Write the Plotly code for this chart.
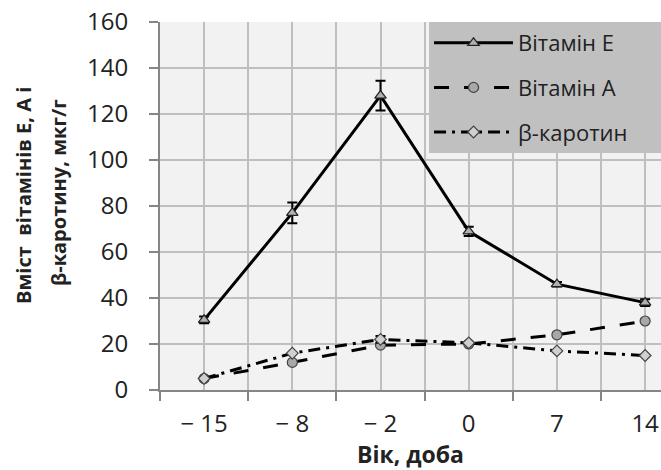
import plotly.graph_objects as go

categories = ["\u2212 15", "\u2212 8", "\u2212 2", "0", "7", "14"]
vit_e = [30.5, 77, 128, 69, 46, 38]
vit_e_err = [1.5, 4.5, 6.5, 2, 1, 1.5]
vit_a = [5, 12, 19.5, 20, 24, 30]
beta = [5, 16, 22, 20.5, 17, 15]
beta_err = [0, 0, 1.5, 0, 0, 0]
names = ["Вітамін Е", "Вітамін А", "β-каротин"]
y_title = ["Вміст  вітамінів Е, А і", "β-каротину, мкг/г"]
x_title = "Вік, доба"

xpos = list(range(len(categories)))
FONT = "Open Sans"
LEG_BG = "#c0c0c0"

fig = go.Figure()
fig.add_trace(go.Scatter(
    x=xpos, y=vit_e, name=names[0], mode="lines+markers", legendgroup="e",
    line=dict(color="black", width=3),
    marker=dict(symbol="triangle-up", size=10, color="#b0b0b0", line=dict(color="#222", width=1.2)),
    error_y=dict(type="data", array=vit_e_err, color="black", thickness=2, width=5),
))
fig.add_trace(go.Scatter(
    x=xpos, y=vit_a, name=names[1], mode="lines+markers", legendgroup="a",
    line=dict(color="black", width=3, dash="longdash"),
    marker=dict(symbol="circle", size=10, color="#a8a8a8", line=dict(color="#444", width=1.2)),
))
fig.add_trace(go.Scatter(
    x=xpos, y=beta, name=names[2], mode="lines+markers", legendgroup="b",
    line=dict(color="black", width=3, dash="12px,6px,3px,6px"),
    marker=dict(symbol="diamond", size=9, color="#d0d0d0", line=dict(color="#444", width=1.2)),
    error_y=dict(type="data", array=beta_err, color="black", thickness=2, width=5),
))

# legend background panel (extends to the right edge like the original)
fig.add_shape(type="rect", xref="paper", yref="paper", x0=0.537, x1=1.0, y0=0.644, y1=1.0,
              fillcolor=LEG_BG, line=dict(width=0), layer="above")

# two-line rotated y-axis title
fig.add_annotation(text="<b>" + y_title[0] + "</b>", xref="paper", yref="paper", x=0, y=0.5,
                   xanchor="center", yanchor="middle", xshift=-137, yshift=10, textangle=-90,
                   showarrow=False, font=dict(family=FONT, size=20, color="#222"))
fig.add_annotation(text="<b>" + y_title[1] + "</b>", xref="paper", yref="paper", x=0, y=0.5,
                   xanchor="center", yanchor="middle", xshift=-102, yshift=13, textangle=-90,
                   showarrow=False, font=dict(family=FONT, size=20, color="#222"))

fig.update_layout(
    width=661, height=470,
    margin=dict(l=160, r=0, t=22, b=80),
    paper_bgcolor="white", plot_bgcolor="#f2f2f2",
    font=dict(family=FONT, size=22, color="#222"),
    legend=dict(
        x=0.537, y=1, xanchor="left", yanchor="top",
        bgcolor=LEG_BG, borderwidth=0,
        font=dict(family=FONT, size=22, color="#222"),
        tracegroupgap=13, itemwidth=79,
    ),
    xaxis=dict(
        range=[-0.5, 5.18], tickmode="array", tickvals=xpos, ticktext=categories,
        ticks="", showgrid=True, gridcolor="#bfbfbf", gridwidth=1.5,
        showline=True, linecolor="#868686", linewidth=2, zeroline=False,
        tickfont=dict(size=24), ticklabelstandoff=11,
        minor=dict(tickvals=[-0.5, 0.5, 1.5, 2.5, 3.5, 4.5], ticks="outside", ticklen=9,
                   tickcolor="#868686", tickwidth=2, showgrid=True, gridcolor="#bfbfbf", gridwidth=1.5),
        title=dict(text="<b>" + x_title + "</b>", font=dict(size=23), standoff=3),
    ),
    yaxis=dict(
        range=[0, 160], tickmode="array", tickvals=list(range(0, 161, 20)),
        ticks="outside", ticklen=9, tickcolor="#868686", tickwidth=2,
        showgrid=True, gridcolor="#bfbfbf", gridwidth=1.5,
        showline=True, linecolor="#868686", linewidth=2, zeroline=False,
        tickfont=dict(size=24), ticklabelstandoff=16,
    ),
)

fig.write_html("out.html")
